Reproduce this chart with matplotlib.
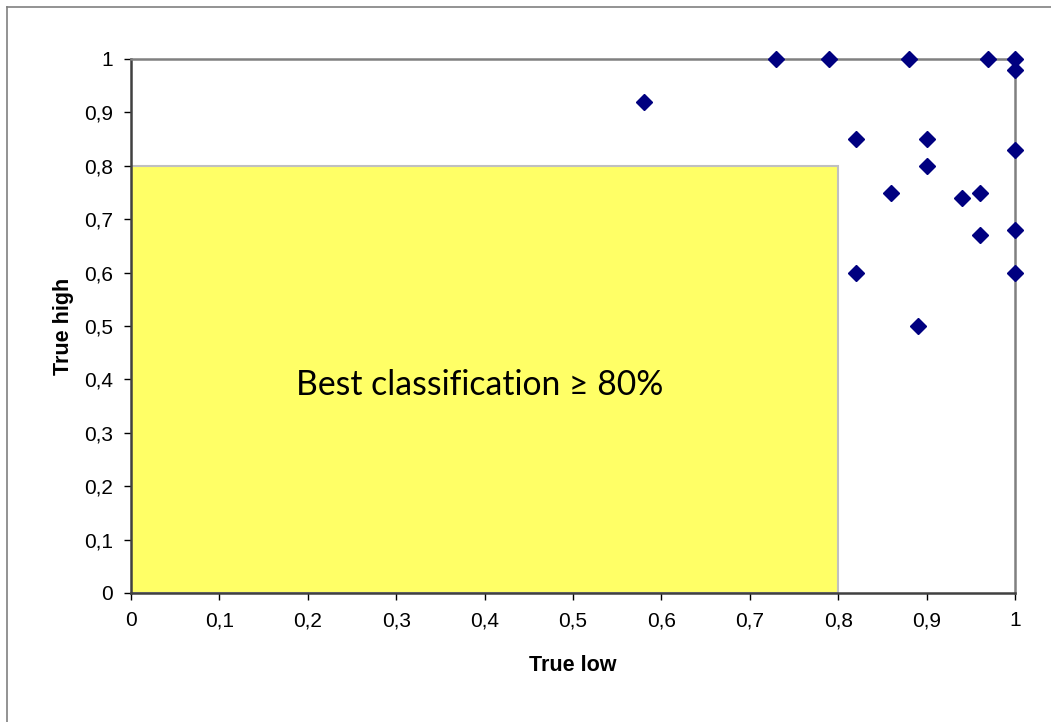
import matplotlib.pyplot as plt
from matplotlib.patches import Rectangle
from matplotlib.ticker import FuncFormatter, MultipleLocator

# true low / true high values per classifier
true_low = [0.73, 0.79, 0.88, 0.97, 1.00, 1.00, 0.58, 0.82, 0.90, 1.00,
            0.90, 0.86, 0.94, 0.96, 0.96, 1.00, 0.82, 1.00, 0.89]
true_high = [1.00, 1.00, 1.00, 1.00, 1.00, 0.98, 0.92, 0.85, 0.85, 0.83,
             0.80, 0.75, 0.74, 0.75, 0.67, 0.68, 0.60, 0.60, 0.50]

threshold = 0.8
label_text = "Best classification \u2265 80%"

plt.rcParams['font.family'] = ['Liberation Sans', 'DejaVu Sans']

fig = plt.figure(figsize=(10.51, 7.22), dpi=100)
ax = fig.add_axes([131 / 1051, 1 - 593 / 722, 884 / 1051, 534 / 722])

# outer chart frame (only top/left visible in the reference)
fig.add_artist(plt.Line2D([7 / 1051, 7 / 1051], [0, 1 - 7 / 722],
                          transform=fig.transFigure, color='#808080', lw=1.2))
fig.add_artist(plt.Line2D([7 / 1051, 1], [1 - 7 / 722, 1 - 7 / 722],
                          transform=fig.transFigure, color='#808080', lw=1.2))

# highlighted region
ax.add_patch(Rectangle((0, 0), threshold, threshold, facecolor='#FFFF66',
                       edgecolor='#C0C0C0', lw=1.5, zorder=1))
ax.text(threshold / 2 - 0.005, 0.39, label_text, ha='center', va='center',
        fontsize=24.3, family=['Lato', 'DejaVu Sans'], zorder=2)

ax.plot(true_low, true_high, linestyle='none', marker='D', markersize=8.5,
        color='#000080', zorder=5, clip_on=False)

ax.set_xlim(0, 1)
ax.set_ylim(0, 1)
ax.xaxis.set_major_locator(MultipleLocator(0.1))
ax.yaxis.set_major_locator(MultipleLocator(0.1))
fmt = FuncFormatter(lambda v, p: ('%g' % round(v, 1)).replace('.', ','))
ax.xaxis.set_major_formatter(fmt)
ax.yaxis.set_major_formatter(fmt)
ax.tick_params(direction='out', length=5, width=1, colors='black',
               labelsize=15, pad=8)

ax.spines['left'].set_color('#404040')
ax.spines['bottom'].set_color('#404040')
ax.spines['top'].set_color('#808080')
ax.spines['right'].set_color('#808080')
for s in ax.spines.values():
    s.set_linewidth(1.8)

ax.set_xlabel('True low', fontsize=15.5, fontweight='bold', labelpad=18)
ax.set_ylabel('True high', fontsize=15.5, fontweight='bold', labelpad=7)

fig.savefig('out.png', dpi=100)
